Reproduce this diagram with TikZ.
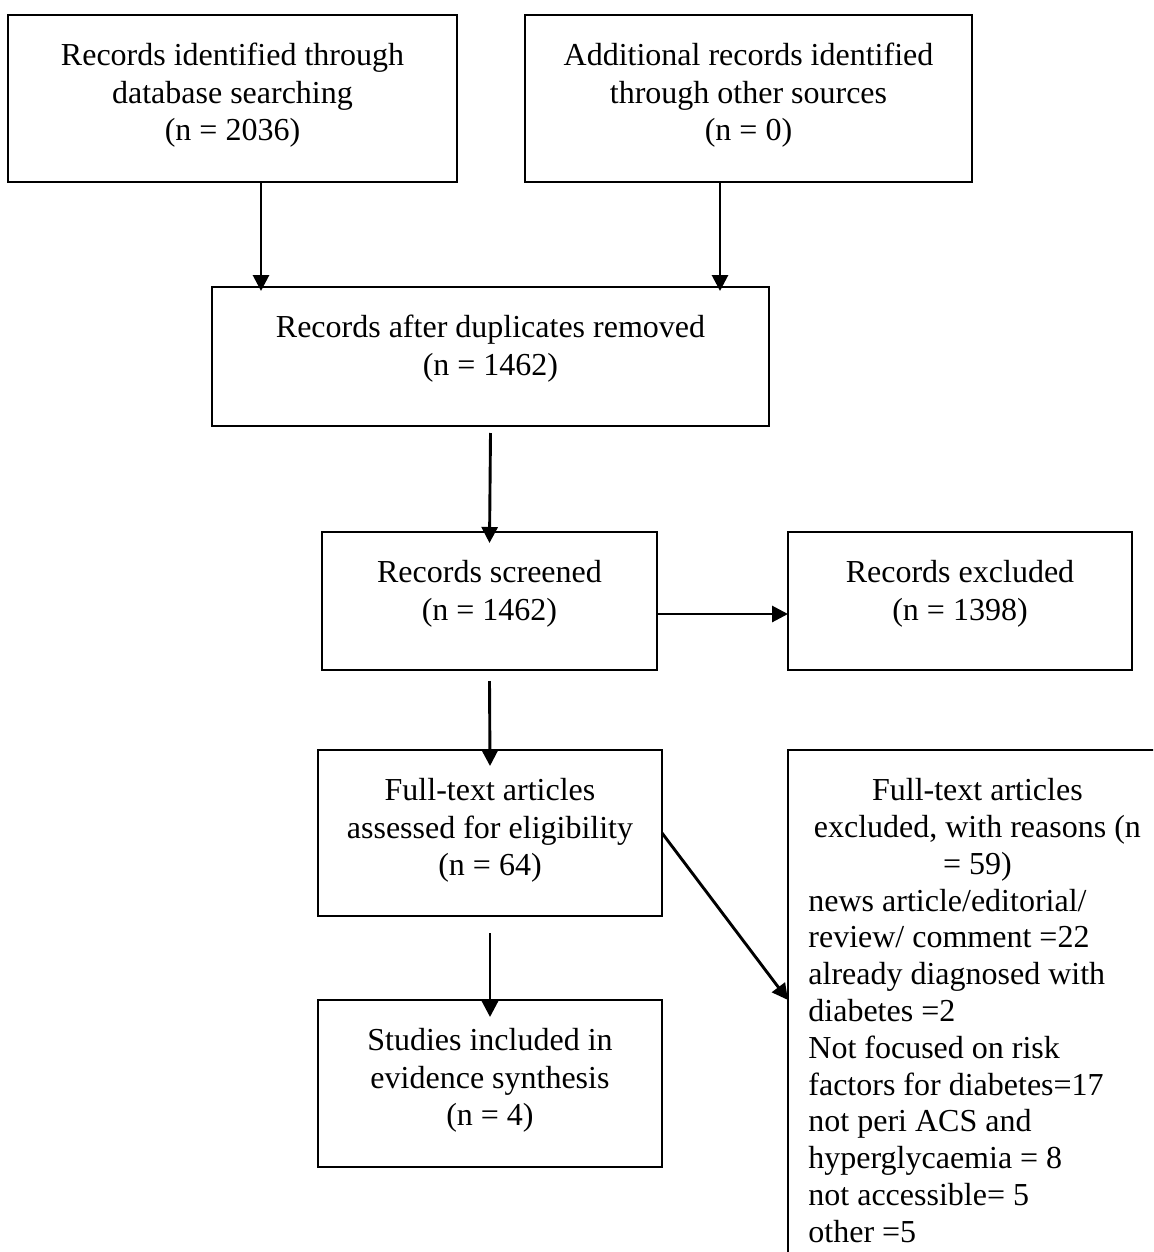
\documentclass[tikz,border=0pt]{standalone}
\usepackage{fontspec}
\setmainfont{Liberation Serif}
\usetikzlibrary{arrows.meta,calc}
\begin{document}
\begin{tikzpicture}[x=0.5pt,y=-0.5pt,
  box/.style={draw, line width=0.9pt, inner sep=0pt, outer sep=0pt, rectangle},
  txt/.style={inner sep=0pt, anchor=north, align=center, font=\fontsize{16pt}{18.75pt}\selectfont},
  arr/.style={line width=1.45pt, -{Triangle[length=8pt,width=8pt]}}]
\useasboundingbox (0,0) rectangle (1153,1252);
\clip (0,0) rectangle (1153,1252);
\fill[white] (0,0) rectangle (1153,1252);

% boxes
\node[box, minimum width=224.5pt, minimum height=83.5pt] (a) at (232.5,98.5) {};
\node[box, minimum width=223.5pt, minimum height=83.5pt] (b) at (748.5,98.5) {};
\node[box, minimum width=278.5pt, minimum height=69.5pt] (c) at (490.5,356.5) {};
\node[box, minimum width=167.5pt, minimum height=69pt] (d) at (489.5,601) {};
\node[box, minimum width=172pt, minimum height=69pt] (e) at (960,601) {};
\node[box, minimum width=172pt, minimum height=83pt] (f) at (490,833) {};
\node[box, minimum width=172pt, minimum height=83.5pt] (g) at (490,1083.5) {};
\node[box, anchor=north west, minimum width=190pt, minimum height=300pt] (h) at (788,750) {};

% texts
\node[txt] (at) at ([yshift=-14pt]a.north) {Records identified through\\database searching\\(n = 2036)};
\node[txt] (bt) at ([yshift=-14pt]b.north) {Additional records identified\\through other sources\\(n = 0)};
\node[txt] (ct) at ([yshift=-14pt]c.north) {Records after duplicates removed\\(n = 1462)};
\node[txt] (dt) at ([yshift=-14pt]d.north) {Records screened\\(n = 1462)};
\node[txt] (et) at ([yshift=-14pt]e.north) {Records excluded\\(n = 1398)};
\node[txt] (ft) at ([yshift=-14pt]f.north) {Full-text articles\\assessed for eligibility\\(n = 64)};
\node[txt] (gt) at ([yshift=-14pt]g.north) {Studies included in\\evidence synthesis\\(n = 4)};
\node[inner sep=0pt, anchor=north west, text width=169pt, align=flush left, font=\fontsize{16pt}{18.4pt}\selectfont] (ht) at ([xshift=10pt,yshift=-14pt]h.north west)
 {\makebox[169pt][c]{Full-text articles}\\
  \makebox[169pt][c]{excluded, with reasons (n}\\
  \makebox[169pt][c]{= 59)}\\
  news article/editorial/\\review/ comment =22\\already diagnosed with\\diabetes =2\\Not focused on risk\\factors for diabetes=17\\not peri ACS and\\hyperglycaemia = 8\\not accessible= 5\\other =5};

% connectors
\draw[arr] ($(a.south)+(28.5,0)$) -- ($(a.south |- c.north)+(28.5,4)$);
\draw[arr] ($(b.south)+(-28.5,0)$) -- ($(b.south |- c.north)+(-28.5,4)$);
\draw[arr] ($(c.south)+(0,7)$) -- ($(d.north)+(0,11)$);
\draw[arr] ($(d.east)+(0,13)$) -- ($(d.east -| e.west)+(0,13)$);
\draw[arr] ($(d.south)+(0,11)$) -- ($(f.north)+(0,16)$);
\draw[arr] ($(f.south)+(0,17)$) -- ($(g.north)+(0,17)$);
\draw[arr] (f.east) -- ($(h.north west)+(0,250)$);
\end{tikzpicture}
\end{document}
